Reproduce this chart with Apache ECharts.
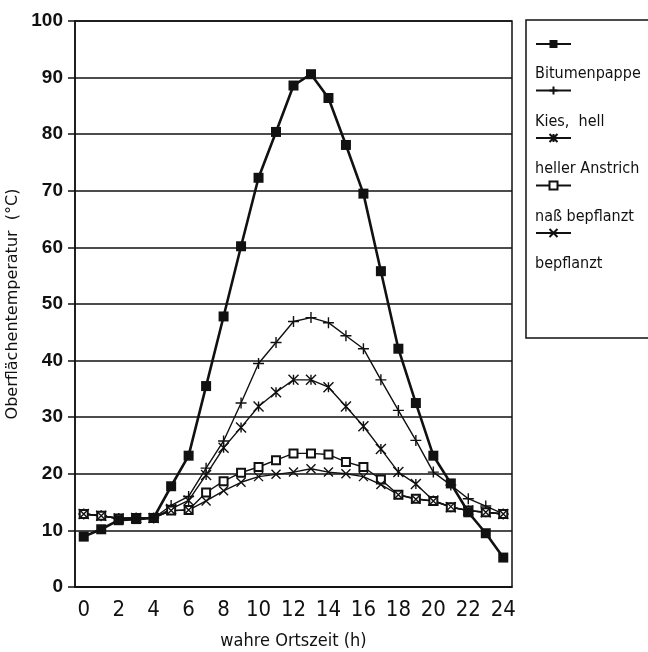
<!DOCTYPE html>
<html>
<head>
<meta charset="utf-8">
<script src="https://cdn.jsdelivr.net/npm/echarts@6/dist/echarts.min.js"></script>
<style>
  html, body { margin: 0; padding: 0; background: #fff; }
  #chart { width: 648px; height: 652px; }
</style>
</head>
<body>
<div id="chart"></div>
<script>
// Stunden (wahre Ortszeit)
var hours = ['0','1','2','3','4','5','6','7','8','9','10','11','12','13','14','15','16','17','18','19','20','21','22','23','24'];
var names = ['Bitumenpappe', 'Kies,  hell', 'heller Anstrich', 'naß bepflanzt', 'bepflanzt'];

var bitumen  = [8.9,10.2,11.8,12.0,12.2,17.8,23.2,35.5,47.8,60.2,72.3,80.4,88.6,90.6,86.4,78.1,69.5,55.8,42.1,32.5,23.2,18.3,13.2,9.5,5.2];
var kies     = [12.9,12.6,12.1,12.2,12.2,14.4,16.0,21.0,25.8,32.5,39.5,43.2,46.9,47.6,46.7,44.4,42.1,36.6,31.2,25.9,20.3,18.0,15.6,14.3,12.9];
var anstrich = [12.9,12.6,12.1,12.2,12.2,13.8,15.3,19.8,24.6,28.2,31.9,34.4,36.6,36.6,35.3,31.9,28.4,24.4,20.3,18.2,15.3,14.1,13.5,13.2,12.9];
var nass     = [12.9,12.6,12.1,12.2,12.2,13.5,13.6,16.7,18.7,20.2,21.2,22.4,23.6,23.6,23.4,22.1,21.2,19.0,16.3,15.6,15.2,14.1,13.5,13.2,12.9];
var bepfl    = [12.9,12.6,12.1,12.2,12.2,13.5,13.6,15.2,17.0,18.5,19.5,19.9,20.3,20.9,20.3,20.0,19.5,18.1,16.3,15.5,15.2,14.2,13.5,13.2,12.9];

var ink = '#111';
var narrow = '"DejaVu Sans Condensed", "Liberation Sans Narrow", sans-serif';

// Markersymbole
var plusPath = 'path://M5,0L5,10M0,5L10,5';
var starPath = 'path://M0,0L10,10M10,0L0,10M5,0L5,10';
var crossPath = 'path://M0,0L10,10M10,0L0,10';

function thin(name, data, symbol, size) {
    return {
        name: name,
        type: 'line',
        data: data,
        z: 2,
        symbol: symbol,
        symbolSize: size,
        showAllSymbol: true,
        lineStyle: { color: ink, width: 1.4 },
        itemStyle: { color: ink, borderColor: ink, borderWidth: 1.4 }
    };
}

var myChart = echarts.init(document.getElementById('chart'));
var option = {
    backgroundColor: '#fff',
    animation: false,
    grid: {
        left: 75, right: 136, top: 21, bottom: 65,
        outerBoundsMode: 'none',
        show: true, borderColor: ink, borderWidth: 1.5
    },
    // obere Legende: nur Linien mit Symbol
    legend: [{
        data: names,
        orient: 'vertical',
        left: 530, top: 34,
        itemWidth: 35, itemHeight: 10,
        itemGap: 37.5,
        formatter: function () { return ''; },
        textStyle: { fontSize: 8 },
        selectedMode: false
    }, {
        // Beschriftung unter dem Symbol
        data: names.map(function (n) { return { name: n, icon: 'none' }; }),
        orient: 'vertical',
        left: 525, top: 60,
        itemWidth: 0, itemHeight: 18,
        itemGap: 29.5,
        textStyle: { color: ink, fontFamily: narrow, fontSize: 16, lineHeight: 18 },
        selectedMode: false
    }],
    graphic: [{
        type: 'rect',
        shape: { x: 526, y: 20, width: 130, height: 318 },
        style: { fill: 'none', stroke: ink, lineWidth: 1.5 }
    }],
    xAxis: {
        type: 'category',
        data: hours,
        boundaryGap: true,
        name: 'wahre Ortszeit (h)',
        nameLocation: 'middle',
        nameGap: 45,
        nameTextStyle: { color: ink, fontFamily: narrow, fontSize: 18 },
        axisLine: { lineStyle: { color: ink, width: 1.5 } },
        axisTick: { alignWithLabel: true, interval: 0, length: 7, lineStyle: { color: ink, width: 1.5 } },
        axisLabel: { interval: 1, margin: 12, color: ink, fontFamily: narrow, fontSize: 22 },
        splitLine: { show: false }
    },
    yAxis: {
        type: 'value',
        min: 0, max: 100, interval: 10,
        name: 'Oberflächentemperatur  (°C)',
        nameLocation: 'middle',
        nameRotate: 90,
        nameGap: 46,
        nameTextStyle: { color: ink, fontFamily: '"DejaVu Sans", sans-serif', fontSize: 16 },
        axisLine: { show: true, lineStyle: { color: ink, width: 1.5 } },
        axisTick: { show: true, length: 7, lineStyle: { color: ink, width: 1.5 } },
        axisLabel: { margin: 12, color: ink, fontFamily: '"Liberation Sans", Arial, sans-serif', fontWeight: 'bold', fontSize: 19 },
        splitLine: { show: true, lineStyle: { color: ink, width: 1.5 } }
    },
    series: [
        {
            name: names[0],
            type: 'line',
            data: bitumen,
            z: 4,
            symbol: 'rect',
            symbolSize: 10,
            showAllSymbol: true,
            lineStyle: { color: ink, width: 2.6 },
            itemStyle: { color: ink }
        },
        thin(names[1], kies, plusPath, 11),
        thin(names[2], anstrich, starPath, 10),
        thin(names[3], nass, 'emptyRect', 8),
        thin(names[4], bepfl, crossPath, 9)
    ]
};
myChart.setOption(option);
</script>
</body>
</html>
